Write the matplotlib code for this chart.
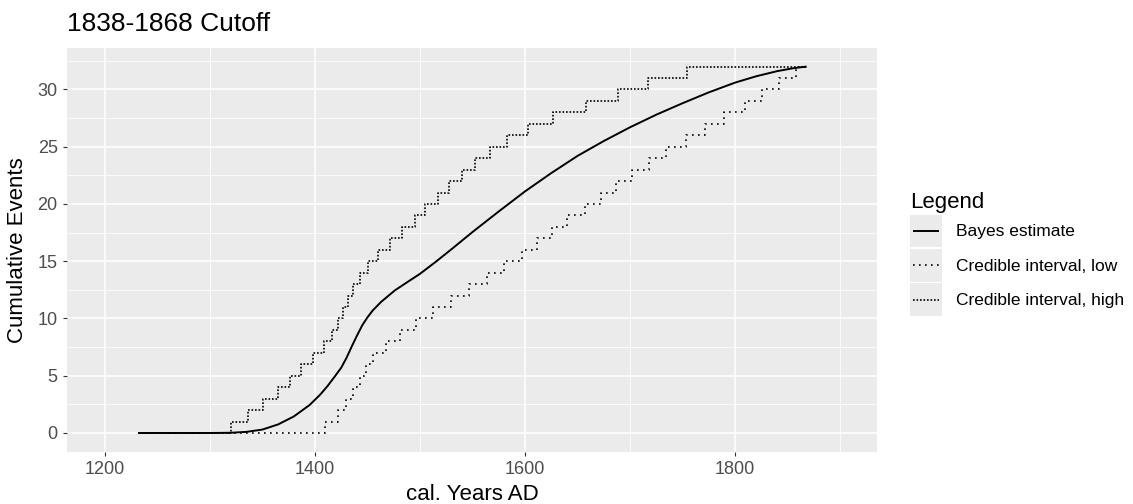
import numpy as np
import matplotlib
matplotlib.use("Agg")
import matplotlib.pyplot as plt
from matplotlib.patches import Rectangle
from matplotlib.lines import Line2D
from matplotlib.legend_handler import HandlerBase

plt.rcParams['font.family'] = ['Liberation Sans', 'DejaVu Sans']

# ===== data =====
# Bayes estimate (smooth curve)
bayes_years = [1232, 1300, 1320, 1335, 1350, 1365, 1380, 1395, 1405, 1412,
               1419, 1425, 1430, 1435, 1440, 1445, 1450, 1455, 1463, 1476,
               1490, 1500, 1515, 1530, 1550, 1575, 1600, 1625, 1650, 1675,
               1700, 1725, 1750, 1775, 1800, 1820, 1840, 1855, 1868]
bayes_values = [0.0, 0.0, 0.02, 0.1, 0.3, 0.75, 1.45, 2.45, 3.35, 4.1,
                4.95, 5.7, 6.55, 7.55, 8.5, 9.4, 10.1, 10.7, 11.45, 12.45,
                13.3, 13.9, 14.95, 16.05, 17.55, 19.35, 21.1, 22.7, 24.2, 25.5,
                26.7, 27.8, 28.8, 29.75, 30.6, 31.15, 31.6, 31.85, 32.0]

# credible interval, low (step function): year of each step and level after it
low_years = [1232, 1409.5, 1421.5, 1429.5, 1436, 1442.5, 1448.5, 1455, 1468,
             1480.5, 1496, 1512, 1529.3, 1546.7, 1564, 1580.3, 1597, 1611,
             1626, 1640.4, 1657.2, 1672, 1687, 1702, 1718, 1734.4, 1753.4,
             1771, 1789, 1809, 1825.5, 1841.4, 1857.8, 1868]
low_counts = [0, 1, 2, 3, 4, 5, 6, 7, 8, 9, 10, 11, 12, 13, 14, 15, 16, 17,
              18, 19, 20, 21, 22, 23, 24, 25, 26, 27, 28, 29, 30, 31, 32, 32]

# credible interval, high (step function)
high_years = [1232, 1320, 1336.5, 1350.7, 1365, 1376, 1387, 1397.8, 1408.2,
              1416.3, 1421.5, 1426.3, 1431.2, 1436.1, 1442.5, 1450.8, 1460,
              1471.3, 1483, 1494.8, 1505.2, 1516.9, 1528, 1540, 1552.7, 1566.7,
              1582.4, 1603, 1627, 1657.8, 1688.8, 1717.3, 1754.3, 1868]
high_counts = [0, 1, 2, 3, 4, 5, 6, 7, 8, 9, 10, 11, 12, 13, 14, 15, 16, 17,
               18, 19, 20, 21, 22, 23, 24, 25, 26, 27, 28, 29, 30, 31, 32, 32]

labels = ["Bayes estimate", "Credible interval, low", "Credible interval, high"]
# =======================================


class KeyHandler(HandlerBase):
    # ggplot-like legend key: grey box with the line centred in it
    def create_artists(self, legend, orig_handle, xdescent, ydescent,
                       width, height, fontsize, trans):
        bg = Rectangle((-xdescent, -ydescent), width, height,
                       facecolor="#EBEBEB", edgecolor="none", transform=trans)
        y = -ydescent + height / 2
        ln = Line2D([-xdescent + 2, width - xdescent - 2], [y, y])
        ln.update_from(orig_handle)  # copies colour, width and dash pattern
        ln.set_clip_on(False)
        ln.set_clip_box(None)
        ln.set_transform(trans)
        return [bg, ln]


def main():
    fig = plt.figure(figsize=(11.33, 5.04), dpi=100)
    ax = fig.add_axes([67 / 1133, 1 - 452 / 504, 810 / 1133, 404 / 504])

    ax.set_facecolor("#EBEBEB")
    for s in ax.spines.values():
        s.set_visible(False)

    ln_bayes, = ax.plot(bayes_years, bayes_values, color="black", lw=1.4,
                        solid_capstyle="butt")
    ln_low, = ax.step(low_years, low_counts, where="post", color="black",
                      lw=1.2, linestyle=(0, (1, 2.6)))
    ln_high, = ax.step(high_years, high_counts, where="post", color="black",
                       lw=1.2, linestyle=(0, (1, 1.1)))

    ax.set_xlim(1164, 1935)
    ax.set_ylim(-1.66, 33.62)
    ax.set_xticks([1200, 1400, 1600, 1800])
    ax.set_xticks([1300, 1500, 1700, 1900], minor=True)
    ax.set_yticks([0, 5, 10, 15, 20, 25, 30])
    ax.set_yticks([2.5, 7.5, 12.5, 17.5, 22.5, 27.5, 32.5], minor=True)
    ax.grid(True, which="major", color="white", lw=1.1)
    ax.grid(True, which="minor", color="white", lw=0.55)
    ax.set_axisbelow(True)
    ax.tick_params(which="major", length=3.2, width=0.8, color="#333333",
                   labelcolor="#4D4D4D", labelsize=13, pad=3.5)
    ax.tick_params(which="minor", length=0)

    ax.set_title("1838-1868 Cutoff", loc="left", fontsize=19, pad=12)
    ax.set_xlabel("cal. Years AD", fontsize=16, labelpad=4)
    ax.set_ylabel("Cumulative Events", fontsize=16, labelpad=7)

    fig.legend([ln_bayes, ln_low, ln_high], labels,
               handler_map={Line2D: KeyHandler()},
               loc="center left", bbox_to_anchor=(910 / 1133, 0.496),
               borderaxespad=0, frameon=False, fontsize=12.5,
               title="Legend", title_fontsize=16, alignment="left",
               borderpad=0, handlelength=1.85, handleheight=2.5,
               labelspacing=0.1, handletextpad=0.8)

    fig.savefig("out.png", dpi=100)


if __name__ == "__main__":
    main()
